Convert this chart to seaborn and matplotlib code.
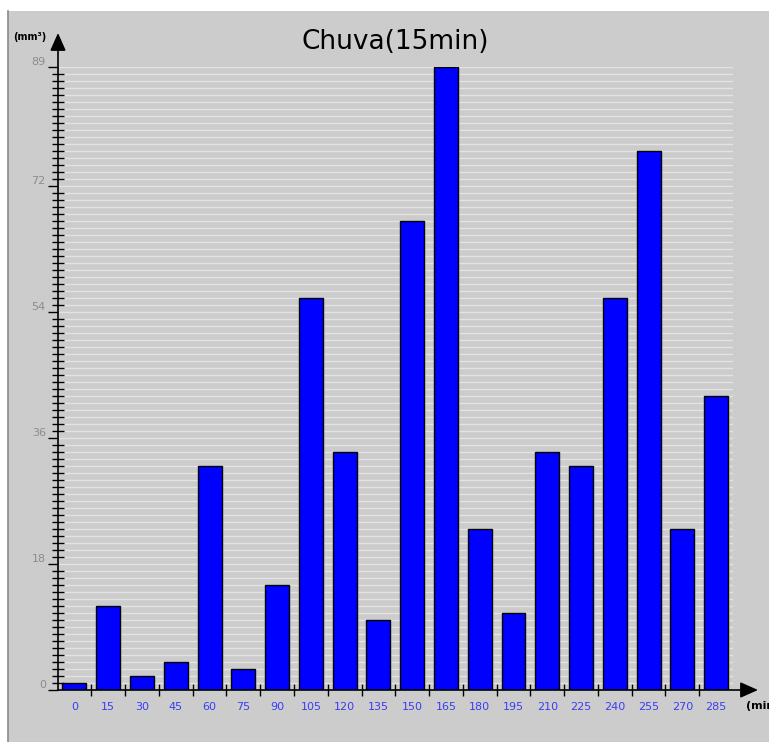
import numpy as np
import pandas as pd
import matplotlib
matplotlib.use('Agg')
import matplotlib.pyplot as plt
import seaborn as sns
from matplotlib.patches import Rectangle
from matplotlib.lines import Line2D
from matplotlib.ticker import MultipleLocator

# dados
minutos = ['0', '15', '30', '45', '60', '75', '90', '105', '120', '135',
           '150', '165', '180', '195', '210', '225', '240', '255', '270', '285']
chuva = [1, 12, 2, 4, 32, 3, 15, 56, 34, 10,
         67, 89, 23, 11, 34, 32, 56, 77, 23, 42]
y_ticks = [0, 18, 36, 54, 72, 89]

W, H = 769, 742
fig = plt.figure(figsize=(W / 100, H / 100), dpi=100, facecolor='white')

# painel cinza de fundo
fig.patches.append(Rectangle((8 / W, 0), 1, 1 - 11 / H, transform=fig.transFigure,
                             facecolor='#cccccc', edgecolor='none', zorder=-10))
fig.lines.append(Line2D([8 / W, 8 / W], [0, 1 - 11 / H], transform=fig.transFigure,
                        color='#8a8a8a', lw=1.2))

ax = fig.add_axes([57.6 / W, 1 - 690 / H, (733 - 57.6) / W, (690 - 67) / H])
ax.set_facecolor('#cccccc')

df = pd.DataFrame({'min': minutos, 'chuva': chuva})
sns.barplot(data=df, x='min', y='chuva', order=minutos, color='#0000ff', saturation=1,
            edgecolor='black', linewidth=1, width=0.71, ax=ax, zorder=3)

ax.set_xlim(-0.5, len(minutos) - 0.5)
ax.set_ylim(0, 89)

# grade horizontal a cada unidade
ax.yaxis.set_minor_locator(MultipleLocator(1))
ax.set_yticks(y_ticks)
ax.grid(True, which='both', axis='y', color='#e3e3e3', lw=1, zorder=0)
ax.set_axisbelow(True)

ax.set_xticks(range(len(minutos)))
ax.set_xticklabels(minutos)
ax.set_xticks(np.arange(0.5, len(minutos) - 1), minor=True)
ax.tick_params(axis='x', which='major', length=0, pad=9, labelsize=8, labelcolor='#3c3cf5')
ax.tick_params(axis='x', which='minor', direction='inout', length=8, width=1, color='black')
ax.tick_params(axis='y', which='major', direction='out', length=7.5, width=1, pad=1,
               labelsize=8, labelcolor='#8c8c8c')
ax.tick_params(axis='y', which='minor', direction='inout', length=8, width=1, color='black')
for lbl in ax.get_yticklabels():
    lbl.set_va('bottom')

for s in ax.spines.values():
    s.set_visible(False)
ax.set_xlabel('')
ax.set_ylabel('')

# eixos com setas
seta = dict(arrowstyle='-|>,head_length=0.9,head_width=0.4', color='black', lw=1.2,
            mutation_scale=12, shrinkA=0, shrinkB=0)
ax.annotate('', xy=(58, H - 33), xytext=(58, H - 690), xycoords='figure pixels',
            textcoords='figure pixels', arrowprops=seta, annotation_clip=False)
ax.annotate('', xy=(758, H - 690), xytext=(58, H - 690), xycoords='figure pixels',
            textcoords='figure pixels', arrowprops=seta, annotation_clip=False)

fig.text(395 / W, 1 - 42 / H, 'Chuva(15min)', ha='center', va='center', fontsize=19)
fig.text(13 / W, 1 - 37 / H, '(mm³)', ha='left', va='center', fontsize=7, fontweight='bold')
fig.text(746 / W, 1 - 706 / H, '(min)', ha='left', va='center', fontsize=8, fontweight='bold')

fig.savefig('out.png', dpi=100, facecolor=fig.get_facecolor())
